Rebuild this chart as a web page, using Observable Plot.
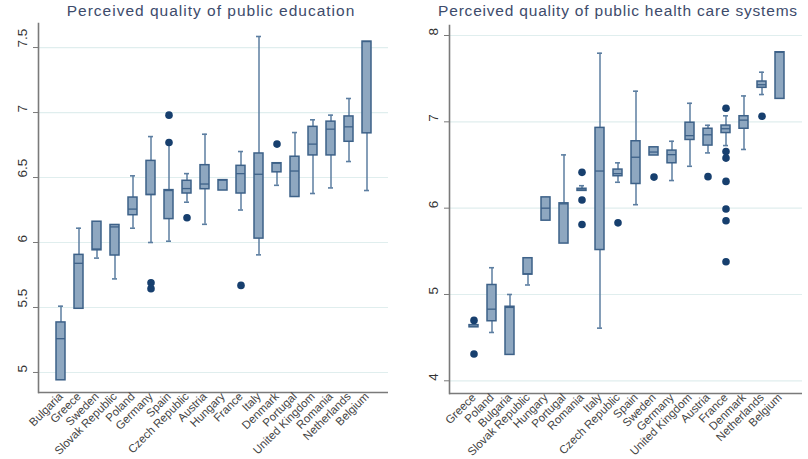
<!DOCTYPE html>
<html>
<head>
<meta charset="utf-8">
<script src="https://cdn.jsdelivr.net/npm/d3@7"></script>
<script src="https://cdn.jsdelivr.net/npm/@observablehq/plot@0.6"></script>
<style>
  html, body { margin: 0; padding: 0; background: #fff; }
  #wrap { position: relative; width: 808px; height: 459px; overflow: hidden; font-family: "Liberation Sans", Arial, sans-serif; }
  .panel { position: absolute; top: 0; }
  .title { position: absolute; top: 2px; font-size: 15.5px; color: #3d4b6b; white-space: nowrap; transform: translateX(-50%); }
</style>
</head>
<body>
<div id="wrap">
  <div class="panel" id="left" style="left:0px"></div>
  <div class="panel" id="right" style="left:404px"></div>
  <div class="title" style="left:211px; letter-spacing:1px">Perceived quality of public education</div>
  <div class="title" style="left:618px; letter-spacing:0.8px">Perceived quality of public health care systems</div>
</div>
<script>
// ---------- Education panel data ----------
const eduCountries = ["Bulgaria","Greece","Sweden","Slovak Republic","Poland","Germany","Spain","Czech Republic","Austria","Hungary","France","Italy","Denmark","Portugal","United Kingdom","Romania","Netherlands","Belgium"];
const eduQ1  = [4.94, 5.49, 5.94, 5.90, 6.21, 6.365, 6.18, 6.377, 6.41, 6.40, 6.377, 6.03, 6.54, 6.35, 6.67, 6.67, 6.775, 6.84];
const eduMed = [5.26, 5.84, 5.95, 6.12, 6.257, 6.37, 6.40, 6.415, 6.45, 6.48, 6.53, 6.525, 6.61, 6.55, 6.757, 6.872, 6.89, 7.546];
const eduQ3  = [5.385, 5.905, 6.16, 6.135, 6.346, 6.628, 6.403, 6.475, 6.595, 6.48, 6.59, 6.685, 6.61, 6.66, 6.89, 6.93, 6.97, 7.546];
const eduLo  = [4.94, 5.49, 5.88, 5.72, 6.11, 6.0, 6.01, 6.31, 6.14, 6.40, 6.25, 5.905, 6.44, 6.35, 6.377, 6.42, 6.623, 6.40];
const eduHi  = [5.51, 6.11, 6.16, 6.135, 6.513, 6.815, 6.775, 6.53, 6.833, 6.48, 6.70, 7.585, 6.61, 6.846, 6.944, 6.98, 7.108, 7.546];
const eduOutliers = [["Germany",5.69],["Germany",5.645],["Spain",6.98],["Spain",6.77],["Czech Republic",6.19],["France",5.67],["Denmark",6.757]];
const eduTicks = [5, 5.5, 6, 6.5, 7, 7.5];

// ---------- Health panel data ----------
const hcCountries = ["Greece","Poland","Bulgaria","Slovak Republic","Hungary","Portugal","Romania","Italy","Czech Republic","Spain","Sweden","Germany","United Kingdom","Austria","France","Denmark","Netherlands","Belgium"];
const hcQ1  = [4.62, 4.69, 4.30, 5.23, 5.855, 5.59, 6.20, 5.515, 6.37, 6.28, 6.61, 6.52, 6.79, 6.725, 6.87, 6.92, 7.394, 7.266];
const hcMed = [4.63, 4.83, 4.85, 5.24, 6.0, 6.05, 6.21, 6.43, 6.40, 6.59, 6.65, 6.62, 6.84, 6.85, 6.92, 7.02, 7.43, 7.806];
const hcQ3  = [4.645, 5.11, 4.858, 5.42, 6.125, 6.056, 6.225, 6.93, 6.447, 6.775, 6.705, 6.667, 6.99, 6.92, 6.957, 7.065, 7.467, 7.806];
const hcLo  = [4.62, 4.56, 4.30, 5.11, 5.855, 5.59, 6.20, 4.61, 6.30, 6.04, 6.61, 6.32, 6.485, 6.64, 6.725, 6.68, 7.316, 7.266];
const hcHi  = [4.645, 5.31, 5.0, 5.42, 6.125, 6.617, 6.26, 7.795, 6.525, 7.355, 6.705, 6.775, 7.215, 6.96, 7.07, 7.30, 7.575, 7.806];
const hcOutliers = [["Greece",4.70],["Greece",4.31],["Romania",6.415],["Romania",6.095],["Romania",5.81],["Czech Republic",5.83],["Sweden",6.36],["Austria",6.365],["France",7.157],["France",6.655],["France",6.58],["France",6.31],["France",5.99],["France",5.855],["France",5.38],["Netherlands",7.065]];
const hcTicks = [4, 5, 6, 7, 8];

const boxFill = "#8ea7c0", boxStroke = "#3d6188", whisk = "#5c7ea1", dotFill = "#173f6e";
const axisColor = "#7a7a7a", gridColor = "#e0eeee";

function panel(o) {
  const rows = o.countries.map((c, i) => ({c, q1: o.q1[i], med: o.med[i], q3: o.q3[i], lo: o.lo[i], hi: o.hi[i]}));
  return Plot.plot({
    width: o.width, height: 459,
    marginLeft: o.marginLeft, marginRight: o.marginRight, marginTop: o.marginTop, marginBottom: o.marginBottom,
    style: {fontFamily: "'Liberation Sans', Arial, sans-serif", background: "white", overflow: "visible"},
    x: {domain: o.countries, range: o.xRange, paddingInner: 0.5, paddingOuter: 0.25, axis: null},
    y: {domain: o.yDomain, axis: null},
    marks: [
      Plot.gridY(o.ticks, {stroke: gridColor, strokeOpacity: 1, strokeWidth: 1.2}),
      Plot.ruleY([o.yDomain[0]], {stroke: axisColor, strokeWidth: 1.6}),
      Plot.frame({anchor: "left", stroke: axisColor, strokeWidth: 1.6}),
      Plot.axisY(o.ticks, {tickSize: 5, tickFormat: () => "", label: null, stroke: axisColor}),
      Plot.text(o.ticks, {y: d => d, text: d => String(d), frameAnchor: "left", dx: -16, rotate: -90, fontSize: 13.5, fill: "#333"}),
      Plot.axisX({tickRotate: -45, tickSize: 0, tickPadding: 2, fontSize: 11.5, label: null, fill: "#444"}),
      Plot.ruleX(rows, {x: "c", y1: "lo", y2: "hi", stroke: whisk, strokeWidth: 1.5}),
      Plot.tickY(rows.filter(d => d.hi > d.q3), {x: "c", y: "hi", stroke: whisk, strokeWidth: 1.6, inset: 2}),
      Plot.tickY(rows.filter(d => d.lo < d.q1), {x: "c", y: "lo", stroke: whisk, strokeWidth: 1.6, inset: 2}),
      Plot.barY(rows, {x: "c", y1: "q1", y2: "q3", fill: boxFill, stroke: boxStroke, strokeWidth: 1.5}),
      Plot.tickY(rows, {x: "c", y: "med", stroke: boxStroke, strokeWidth: 1.3}),
      Plot.dot(o.outliers, {x: d => d[0], y: d => d[1], r: 3.8, fill: dotFill, stroke: "none"})
    ]
  });
}

document.getElementById("left").appendChild(panel({
  countries: eduCountries, q1: eduQ1, med: eduMed, q3: eduQ3, lo: eduLo, hi: eduHi, outliers: eduOutliers,
  ticks: eduTicks, yDomain: [4.846, 7.685], width: 400,
  marginLeft: 38, marginRight: 12, marginTop: 23, marginBottom: 67, xRange: [51, 375]
}));
document.getElementById("right").appendChild(panel({
  countries: hcCountries, q1: hcQ1, med: hcMed, q3: hcQ3, lo: hcLo, hi: hcHi, outliers: hcOutliers,
  ticks: hcTicks, yDomain: [3.853, 8.116], width: 404,
  marginLeft: 45, marginRight: 6, marginTop: 25, marginBottom: 66, xRange: [58.6, 386.1]
}));
</script>
</body>
</html>
